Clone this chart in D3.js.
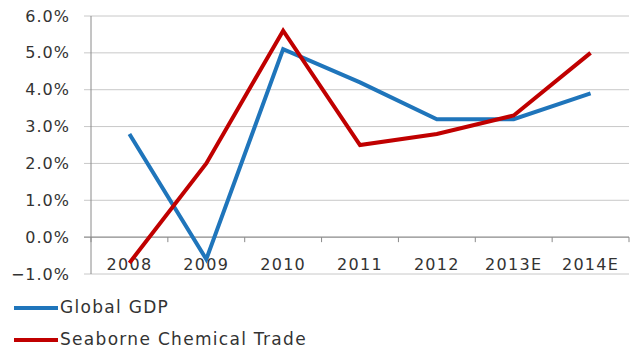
<!DOCTYPE html>
<html>
<head>
<meta charset="utf-8">
<script src="https://cdn.jsdelivr.net/npm/d3@7"></script>
<style>
  body { margin: 0; background: #fff; }
  text { font-family: "DejaVu Sans", Verdana, sans-serif; fill: #333; }
</style>
</head>
<body>
<div id="chart"></div>
<script>
var years = ["2008", "2009", "2010", "2011", "2012", "2013E", "2014E"];
var globalGdp = [2.8, -0.6, 5.1, 4.2, 3.2, 3.2, 3.9];
var chemTrade = [-0.7, 2.0, 5.6, 2.5, 2.8, 3.3, 5.0];
var yTicks = [-1, 0, 1, 2, 3, 4, 5, 6];

var svgWidth = 635;
var svgHeight = 349;

var margin = { top: 16, right: 6, bottom: 75, left: 91 };
var width = 629 - margin.left;
var height = 274 - margin.top;

var svg = d3.select("#chart")
  .append("svg")
  .attr("width", svgWidth)
  .attr("height", svgHeight);

var chartGroup = svg.append("g")
  .attr("transform", `translate(${margin.left}, ${margin.top})`);

var x = d3.scaleBand()
  .domain(years)
  .range([0, width]);

var y = d3.scaleLinear()
  .domain([-1, 6])
  .range([height, 0]);

// gridlines
chartGroup.selectAll(".grid")
  .data(yTicks)
  .enter()
  .append("line")
  .attr("x1", -7)
  .attr("x2", width)
  .attr("y1", d => y(d))
  .attr("y2", d => y(d))
  .attr("stroke", d => d === 0 ? "#8a8a8a" : "#c8c8c8")
  .attr("stroke-width", d => d === 0 ? 1.2 : 1);

// y axis line
chartGroup.append("line")
  .attr("x1", 0).attr("x2", 0)
  .attr("y1", 0).attr("y2", height)
  .attr("stroke", "#8a8a8a");

// y labels
chartGroup.selectAll(".ylab")
  .data(yTicks)
  .enter()
  .append("text")
  .attr("x", -21)
  .attr("y", d => y(d))
  .attr("dy", "0.35em")
  .attr("text-anchor", "end")
  .attr("font-size", "16px")
  .attr("letter-spacing", "1px")
  .text(d => d3.format(".1f")(d) + "%");

// x ticks on the zero line
var tickPos = years.map(d => x(d)).concat([width]);
chartGroup.selectAll(".xtick")
  .data(tickPos)
  .enter()
  .append("line")
  .attr("x1", d => d).attr("x2", d => d)
  .attr("y1", y(0)).attr("y2", y(0) + 5)
  .attr("stroke", "#8a8a8a");

// x labels
chartGroup.selectAll(".xlab")
  .data(years)
  .enter()
  .append("text")
  .attr("x", d => x(d) + x.bandwidth() / 2)
  .attr("y", y(0) + 33)
  .attr("text-anchor", "middle")
  .attr("font-size", "16px")
  .attr("letter-spacing", "1.3px")
  .text(d => d);

var line = d3.line()
  .x((d, i) => x(years[i]) + x.bandwidth() / 2)
  .y(d => y(d));

chartGroup.append("path")
  .datum(globalGdp)
  .attr("fill", "none")
  .attr("stroke", "#1f75bb")
  .attr("stroke-width", 4)
  .attr("d", line);

chartGroup.append("path")
  .datum(chemTrade)
  .attr("fill", "none")
  .attr("stroke", "#c00000")
  .attr("stroke-width", 4)
  .attr("d", line);

// legend
var legend = [
  { name: "Global GDP", color: "#1f75bb", y: 307 },
  { name: "Seaborne Chemical Trade", color: "#c00000", y: 339 }
];

legend.forEach(function(l) {
  svg.append("line")
    .attr("x1", 14).attr("x2", 58)
    .attr("y1", l.y + 1).attr("y2", l.y + 1)
    .attr("stroke", l.color)
    .attr("stroke-width", 4);
  svg.append("text")
    .attr("x", 60)
    .attr("y", l.y)
    .attr("dy", "0.33em")
    .attr("font-size", "17px")
    .attr("letter-spacing", "1.3px")
    .text(l.name);
});
</script>
</body>
</html>
